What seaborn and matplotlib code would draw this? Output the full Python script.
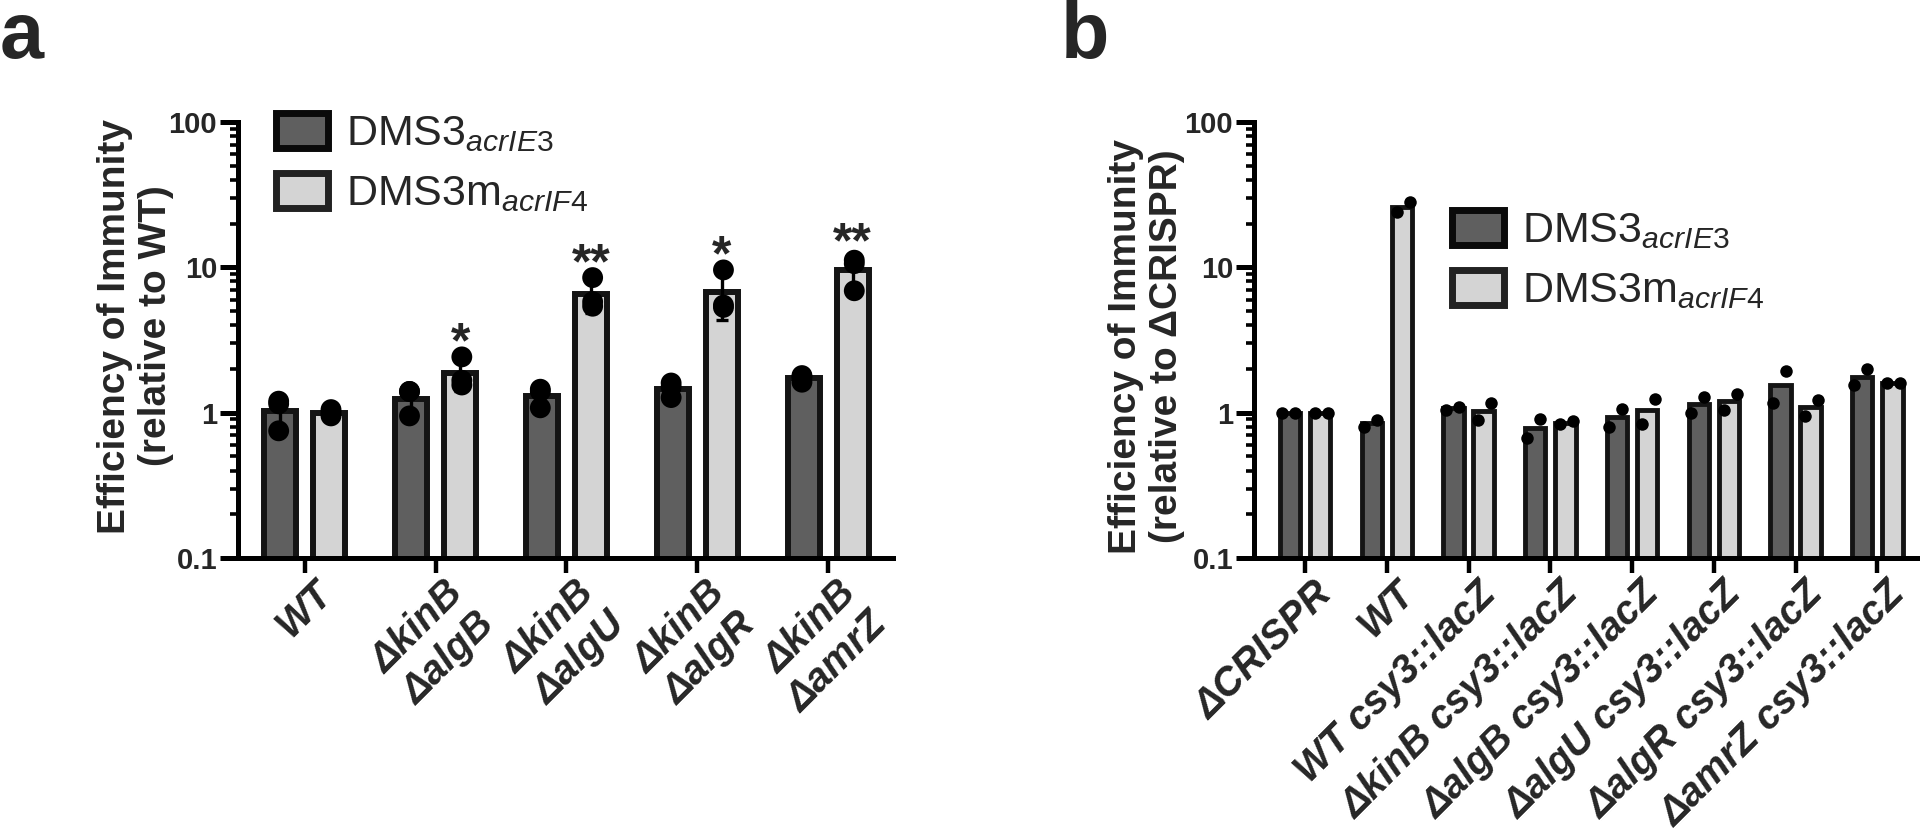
import numpy as np
import pandas as pd
import matplotlib
matplotlib.use("Agg")
import matplotlib.pyplot as plt
import seaborn as sns
from matplotlib import font_manager
from matplotlib.patches import Patch
from matplotlib.ticker import FixedLocator, LogLocator, NullFormatter
from matplotlib.transforms import ScaledTranslation

# ---- data ----
phages = ["DMS3$_{\\mathit{acrIE3}}$", "DMS3m$_{\\mathit{acrIF4}}$"]

# panel a: three replicates per bar
strains_a = ["WT", "ΔkinB\nΔalgB", "ΔkinB\nΔalgU", "ΔkinB\nΔalgR", "ΔkinB\nΔamrZ"]
acrie3_a = [[1.20, 1.15, 0.75], [1.40, 1.40, 0.95], [1.45, 1.40, 1.08],
            [1.60, 1.50, 1.27], [1.80, 1.75, 1.62]]
acrif4_a = [[1.05, 1.00, 0.95], [2.42, 1.67, 1.55], [8.50, 5.80, 5.40],
            [9.60, 5.50, 5.30], [11.2, 10.6, 6.90]]
stars_a = ["", "*", "**", "*", "**"]
ylabel_a = ["Efficiency of Immunity", "(relative to WT)"]

# panel b: two replicates per bar
strains_b = ["ΔCRISPR", "WT", "WT csy3::lacZ", "ΔkinB csy3::lacZ",
             "ΔalgB csy3::lacZ", "ΔalgU csy3::lacZ", "ΔalgR csy3::lacZ",
             "ΔamrZ csy3::lacZ"]
acrie3_b = [[1.00, 1.00], [0.80, 0.89], [1.05, 1.10], [0.67, 0.90],
            [0.80, 1.06], [1.00, 1.29], [1.17, 1.93], [1.54, 2.00]]
acrif4_b = [[1.00, 1.00], [24.0, 28.0], [0.89, 1.16], [0.83, 0.88],
            [0.84, 1.24], [1.04, 1.35], [0.95, 1.23], [1.60, 1.60]]
ylabel_b = ["Efficiency of Immunity", "(relative to ΔCRISPR)"]

dark = "#5f5f5f"
light = "#d4d4d4"
edge = "#141414"

sns.set_theme(style="ticks")
plt.rcParams["font.family"] = ["Liberation Sans", "DejaVu Sans"]
plt.rcParams["mathtext.fontset"] = "custom"
plt.rcParams["mathtext.rm"] = "Liberation Sans"
plt.rcParams["mathtext.it"] = "Liberation Sans:italic"

installed = {f.name for f in font_manager.fontManager.ttflist}
num_font = "Liberation Sans Narrow" if "Liberation Sans Narrow" in installed else "Liberation Sans"
num_size = 23 if num_font == "Liberation Sans Narrow" else 21


def long_form(strains, reps_by_phage):
    rows = []
    for phage, reps in zip(phages, reps_by_phage):
        for s, vals in zip(strains, reps):
            for r, v in enumerate(vals):
                rows.append((s, phage, r, v))
    return pd.DataFrame(rows, columns=["strain", "phage", "rep", "eoi"])


df_a = long_form(strains_a, [acrie3_a, acrif4_a])
df_b = long_form(strains_b, [acrie3_b, acrif4_b])


def summary(df):
    return df.groupby(["phage", "strain"], sort=False)["eoi"].agg(["mean", "std", "max"])


fig = plt.figure(figsize=(19.2, 8.34), dpi=100)
W, H = 1920, 834
ax_a = fig.add_axes([238 / W, 1 - 558 / H, (893 - 238) / W, (558 - 122) / H])
ax_b = fig.add_axes([1254 / W, 1 - 558 / H, (1919 - 1254) / W, (558 - 122) / H])


def draw_panel(ax, df, strains, width, gap, lw, dot, errorbars):
    stats = summary(df)
    means = stats.reset_index()
    sns.barplot(data=means, x="strain", y="mean", hue="phage", order=strains,
                hue_order=phages, palette=[dark, light], saturation=1,
                width=width, gap=gap, log_scale=True, edgecolor=edge,
                linewidth=lw, errorbar=None, legend=False, ax=ax)

    if errorbars:
        sns.stripplot(data=df, x="strain", y="eoi", hue="phage", order=strains,
                      hue_order=phages, palette=["black", "black"], dodge=True,
                      jitter=False, size=dot, linewidth=0, legend=False, ax=ax)
        for h, phage in enumerate(phages):
            xs = [b.get_x() + b.get_width() / 2 for b in ax.containers[h]]
            st = stats.loc[phage].reindex(strains)
            ax.errorbar(xs, st["mean"], yerr=st["std"], fmt="none", ecolor="black",
                        elinewidth=2.4, capsize=4.5, capthick=2.4, zorder=3)
    else:
        # two replicates sit side by side inside each bar
        for r, dx in zip(sorted(df["rep"].unique()), [-0.065, 0.065]):
            n0 = len(ax.collections)
            sns.stripplot(data=df[df["rep"] == r], x="strain", y="eoi", hue="phage",
                          order=strains, hue_order=phages, palette=["black", "black"],
                          dodge=True, jitter=False, size=dot, linewidth=0,
                          legend=False, ax=ax)
            for c in ax.collections[n0:]:
                c.set_offset_transform(c.get_offset_transform()
                                       + ScaledTranslation(dx, 0, fig.dpi_scale_trans))
    return stats


stats_a = draw_panel(ax_a, df_a, strains_a, 0.75, 0.35, 4.3, 15, True)
stats_b = draw_panel(ax_b, df_b, strains_b, 0.735, 0.32, 3.5, 9, False)

ax_a.set_xlim(-0.511, 4.496)
ax_b.set_xlim(-0.624, 7.51)

for ax, strains in [(ax_a, strains_a), (ax_b, strains_b)]:
    ax.set_yscale("log")
    ax.set_ylim(0.1, 100)
    ax.yaxis.set_major_locator(FixedLocator([0.1, 1, 10, 100]))
    ax.set_yticks([0.1, 1, 10, 100], ["0.1", "1", "10", "100"])
    ax.yaxis.set_minor_locator(LogLocator(base=10, subs=np.arange(2, 10)))
    ax.yaxis.set_minor_formatter(NullFormatter())
    for side in ["top", "right"]:
        ax.spines[side].set_visible(False)
    for side in ["left", "bottom"]:
        ax.spines[side].set_linewidth(3.6)
        ax.spines[side].set_color("black")
    ax.tick_params(axis="y", which="major", length=13, width=3.6, pad=2,
                   labelsize=num_size, color="black")
    ax.tick_params(axis="y", which="minor", length=6, width=2.6, color="black")
    ax.tick_params(axis="x", which="major", length=11, width=3.2, pad=1,
                   color="black")
    for lbl in ax.get_yticklabels():
        lbl.set_fontfamily(num_font)
        lbl.set_fontweight("bold")
    ax.set_xticks(range(len(strains)), strains, rotation=45, ha="right",
                  va="top", rotation_mode="anchor", fontsize=28.5,
                  fontweight="bold", fontstyle="italic")
    for lbl in ax.get_xticklabels():
        lbl.set_transform(lbl.get_transform()
                          + ScaledTranslation(0.08, 0, fig.dpi_scale_trans))
    ax.set_xlabel("")
    ax.set_ylabel("")

# two-line y labels, one text per line
for ax, lines, xs, yc in [(ax_a, ylabel_a, (-0.1878, -0.1252), 0.532),
                          (ax_b, ylabel_b, (-0.1925, -0.1308), 0.486)]:
    for line, x in zip(lines, xs):
        ax.text(x, yc, line, transform=ax.transAxes, rotation=90,
                rotation_mode="anchor", ha="center", va="center",
                fontsize=28, fontweight="bold")

# significance stars above the acrIF4 bars of panel a
light_x = [b.get_x() + b.get_width() / 2 for b in ax_a.containers[1]]
st = stats_a.loc[phages[1]].reindex(strains_a)
for x, s, m, sd, mx in zip(light_x, stars_a, st["mean"], st["std"], st["max"]):
    if s:
        ax_a.annotate(s, xy=(x, max(mx, m + sd)), xytext=(0, 9),
                      textcoords="offset points", ha="center", va="center",
                      fontsize=36, fontweight="bold")

# legends
handles = [Patch(facecolor=dark, edgecolor="#0a0a0a", linewidth=5),
           Patch(facecolor=light, edgecolor="#222222", linewidth=5)]
for ax, (lx, ly) in [(ax_a, (276, 113)), (ax_b, (1452, 210))]:
    ax.legend(handles, phages, loc="upper left", bbox_to_anchor=(lx / W, 1 - ly / H),
              bbox_transform=fig.transFigure, frameon=False, fontsize=31,
              handlelength=1.2, handleheight=0.88, handletextpad=0.42,
              labelspacing=0.43, borderpad=0, borderaxespad=0)

fig.text(0.0, 1 - 58 / H, "a", fontsize=57, fontweight="bold", ha="left", va="baseline")
fig.text(1061 / W, 1 - 58 / H, "b", fontsize=57, fontweight="bold", ha="left", va="baseline")

fig.savefig("out.png", dpi=100)
